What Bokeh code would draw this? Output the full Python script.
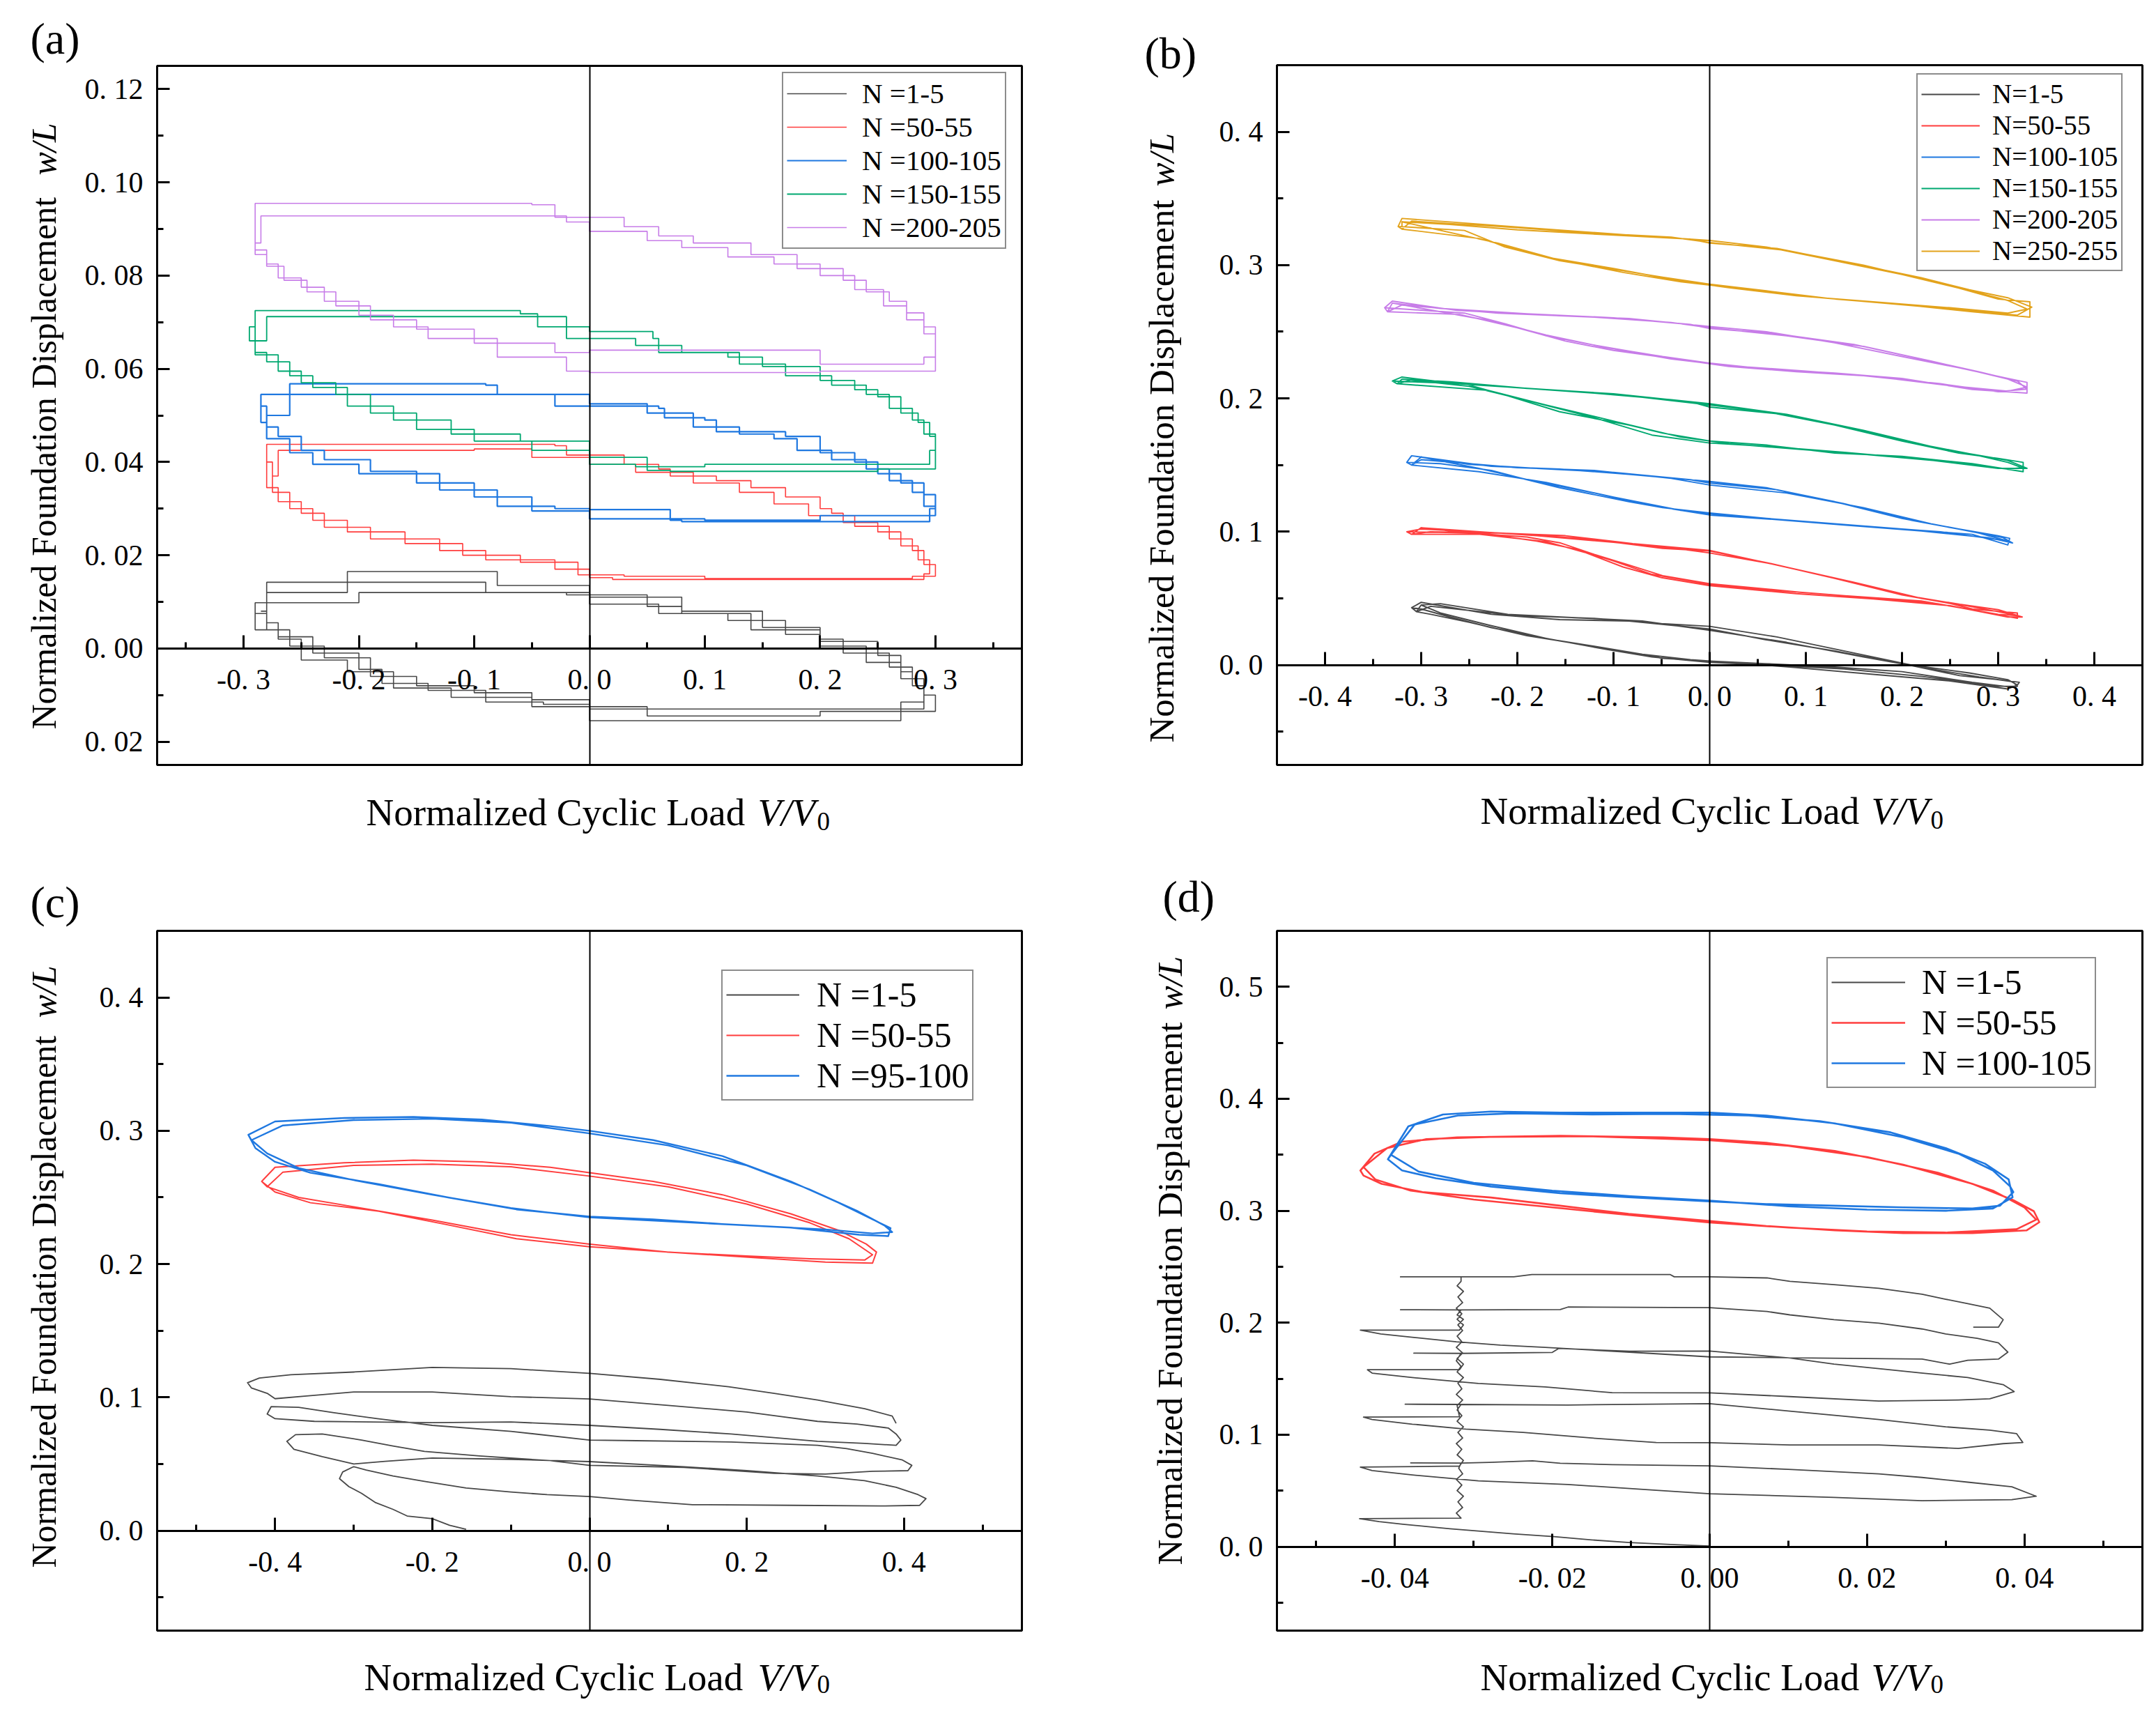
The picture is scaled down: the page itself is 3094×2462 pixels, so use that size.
import math
from bokeh.plotting import figure
from bokeh.models import Range1d, LinearAxis, FixedTicker, Label, Legend, LegendItem, BoxAnnotation
from bokeh.layouts import column, row
from bokeh.embed import file_html
from bokeh.resources import INLINE

# ------------------------------------------------------------------ data (a)
A_XTICKS = [-0.3, -0.2, -0.1, 0.0, 0.1, 0.2, 0.3]
A_XLABELS = ["-0. 3", "-0. 2", "-0. 1", "0. 0", "0. 1", "0. 2", "0. 3"]
A_XMINOR = [-0.35, -0.25, -0.15, -0.05, 0.05, 0.15, 0.25, 0.35]
A_YTICKS = [-0.02, 0.0, 0.02, 0.04, 0.06, 0.08, 0.10, 0.12]
A_YLABELS = ["0. 02", "0. 00", "0. 02", "0. 04", "0. 06", "0. 08", "0. 10", "0. 12"]
A_YMINOR = [-0.01, 0.01, 0.03, 0.05, 0.07, 0.09, 0.11]
A_LABELS = ["N =1-5", "N =50-55", "N =100-105", "N =150-155", "N =200-205"]

A_N1_C1 = [(-0.285, 0.008), (-0.28, 0.0142), (-0.1, 0.0142), (-0.09, 0.012), (-0.02, 0.0115), (0.05, 0.009),
           (0.08, 0.0075), (0.12, 0.006), (0.17, 0.003), (0.2, 0.0015), (0.25, -0.0015), (0.27, -0.005),
           (0.28, -0.008), (0.29, -0.0115), (0.29, -0.013), (0.2, -0.013), (0.1, -0.013), (0.0, -0.011),
           (-0.05, -0.0095), (-0.1, -0.008), (-0.15, -0.006), (-0.19, -0.002), (-0.23, 0.0005), (-0.26, 0.004),
           (-0.28, 0.008), (-0.285, 0.008)]
A_N1_C2 = [(-0.28, 0.0075), (-0.28, 0.012), (-0.21, 0.0165), (-0.09, 0.0165), (-0.08, 0.0135), (0.0, 0.011),
           (0.08, 0.008), (0.15, 0.0045), (0.2, 0.002), (0.22, -0.001), (0.26, -0.004), (0.28, -0.0065),
           (0.29, -0.0115), (0.27, -0.0155), (0.13, -0.0155), (0.0, -0.012), (-0.04, -0.0115), (-0.09, -0.009),
           (-0.14, -0.0075), (-0.18, -0.0045), (-0.2, -0.001), (-0.24, 0.0025), (-0.27, 0.0055), (-0.28, 0.0075)]
A_N1_C3 = [(-0.29, 0.0065), (-0.29, 0.0098), (-0.2, 0.012), (-0.05, 0.012), (0.0, 0.0095), (0.06, 0.0075),
           (0.14, 0.004), (0.2, 0.0005), (0.24, -0.003), (0.27, -0.0065), (0.29, -0.01), (0.3, -0.0135),
           (0.2, -0.0145), (0.05, -0.0125), (-0.05, -0.0105), (-0.12, -0.0085), (-0.17, -0.005), (-0.21, -0.0025),
           (-0.25, 0.002), (-0.27, 0.004), (-0.29, 0.0065)]
A_N50_C1 = [(-0.28, 0.04), (-0.28, 0.0438), (-0.03, 0.0435), (-0.02, 0.0415), (0.03, 0.0395), (0.06, 0.0385),
            (0.07, 0.037), (0.11, 0.036), (0.14, 0.0345), (0.17, 0.0325), (0.2, 0.03), (0.21, 0.029), (0.22, 0.027),
            (0.25, 0.025), (0.27, 0.022), (0.285, 0.019), (0.295, 0.016), (0.29, 0.0148), (0.02, 0.0152),
            (0.0, 0.017), (-0.03, 0.019), (-0.09, 0.021), (-0.13, 0.0235), (-0.19, 0.026), (-0.23, 0.029),
            (-0.25, 0.0315), (-0.27, 0.0345), (-0.28, 0.04)]
A_N50_C2 = [(-0.275, 0.037), (-0.27, 0.0425), (-0.1, 0.0428), (-0.05, 0.041), (0.0, 0.0395), (0.04, 0.0378),
            (0.09, 0.0355), (0.13, 0.0335), (0.16, 0.031), (0.19, 0.0285), (0.23, 0.0262), (0.26, 0.0235),
            (0.28, 0.021), (0.29, 0.018), (0.3, 0.0155), (0.28, 0.015), (0.1, 0.0155), (0.03, 0.0158),
            (-0.01, 0.0185), (-0.06, 0.02), (-0.11, 0.0225), (-0.16, 0.025), (-0.21, 0.0275), (-0.24, 0.03),
            (-0.26, 0.0335), (-0.275, 0.037)]
A_N100_C1 = [(-0.285, 0.052), (-0.285, 0.0545), (-0.035, 0.0545), (-0.03, 0.052), (0.06, 0.0515), (0.065, 0.0495),
             (0.1, 0.049), (0.11, 0.0465), (0.17, 0.0455), (0.19, 0.0455), (0.2, 0.042), (0.23, 0.04), (0.25, 0.0375),
             (0.27, 0.0355), (0.29, 0.033), (0.3, 0.03), (0.295, 0.0272), (0.08, 0.0275), (0.07, 0.0298),
             (0.0, 0.03), (-0.03, 0.0305), (-0.08, 0.034), (-0.13, 0.0375), (-0.2, 0.0395), (-0.24, 0.042),
             (-0.26, 0.045), (-0.28, 0.0485), (-0.285, 0.052)]
A_N100_C2 = [(-0.28, 0.05), (-0.26, 0.0568), (-0.09, 0.0565), (-0.08, 0.0545), (0.0, 0.0525), (0.05, 0.0505),
             (0.09, 0.0475), (0.13, 0.046), (0.16, 0.045), (0.18, 0.0425), (0.21, 0.0405), (0.24, 0.0385),
             (0.26, 0.036), (0.28, 0.0335), (0.29, 0.0305), (0.3, 0.0285), (0.2, 0.0275), (0.1, 0.0278),
             (0.0, 0.0295), (-0.05, 0.0325), (-0.1, 0.0355), (-0.15, 0.038), (-0.19, 0.0405), (-0.23, 0.0425),
             (-0.25, 0.0455), (-0.27, 0.0475), (-0.28, 0.05)]
A_N150_C1 = [(-0.295, 0.069), (-0.29, 0.0725), (-0.06, 0.0718), (-0.045, 0.069), (0.0, 0.068), (0.055, 0.0665),
             (0.06, 0.0635), (0.12, 0.0625), (0.15, 0.0605), (0.2, 0.0575), (0.23, 0.0555), (0.25, 0.054),
             (0.27, 0.0505), (0.285, 0.0485), (0.295, 0.0455), (0.3, 0.042), (0.3, 0.0385), (0.25, 0.038),
             (0.07, 0.0382), (0.05, 0.041), (0.0, 0.0425), (-0.05, 0.0445), (-0.1, 0.047), (-0.15, 0.0505),
             (-0.19, 0.0545), (-0.22, 0.057), (-0.25, 0.0595), (-0.27, 0.063), (-0.29, 0.066), (-0.295, 0.069)]
A_N150_C2 = [(-0.29, 0.066), (-0.28, 0.0712), (-0.04, 0.0712), (-0.02, 0.0665), (0.04, 0.065), (0.08, 0.0635),
             (0.13, 0.061), (0.17, 0.0585), (0.21, 0.0565), (0.24, 0.0545), (0.26, 0.0515), (0.28, 0.049),
             (0.29, 0.046), (0.3, 0.0425), (0.295, 0.0395), (0.2, 0.0395), (0.1, 0.039), (0.04, 0.0395),
             (0.0, 0.0445), (-0.06, 0.046), (-0.12, 0.049), (-0.17, 0.052), (-0.21, 0.056), (-0.24, 0.0585),
             (-0.26, 0.0615), (-0.28, 0.0635), (-0.29, 0.066)]
A_N200_C1 = [(-0.29, 0.089), (-0.29, 0.0955), (-0.05, 0.0952), (-0.03, 0.0925), (0.03, 0.0905), (0.06, 0.0885),
             (0.09, 0.087), (0.14, 0.0845), (0.18, 0.0815), (0.22, 0.079), (0.24, 0.0765), (0.26, 0.0745),
             (0.275, 0.072), (0.29, 0.069), (0.3, 0.066), (0.3, 0.0595), (0.2, 0.0592), (0.2, 0.0592),
             (0.0, 0.0595), (-0.02, 0.0625), (-0.08, 0.0665), (-0.14, 0.069), (-0.17, 0.0715), (-0.2, 0.0745),
             (-0.23, 0.0775), (-0.25, 0.0795), (-0.27, 0.0825), (-0.28, 0.0855), (-0.29, 0.089)]
A_N200_C2 = [(-0.29, 0.087), (-0.285, 0.0928), (-0.04, 0.0928), (-0.02, 0.0915), (0.0, 0.0895), (0.05, 0.0875),
             (0.08, 0.086), (0.12, 0.084), (0.16, 0.0825), (0.2, 0.08), (0.23, 0.077), (0.255, 0.0735),
             (0.275, 0.0705), (0.29, 0.0675), (0.3, 0.0625), (0.29, 0.061), (0.21, 0.061), (0.2, 0.064),
             (0.05, 0.064), (0.0, 0.0635), (-0.03, 0.0655), (-0.1, 0.0685), (-0.15, 0.0705), (-0.19, 0.0735),
             (-0.22, 0.0765), (-0.245, 0.079), (-0.265, 0.082), (-0.28, 0.0845), (-0.29, 0.087)]

# ------------------------------------------------------------------ data (b)
B_XTICKS = [-0.4, -0.3, -0.2, -0.1, 0.0, 0.1, 0.2, 0.3, 0.4]
B_XLABELS = ["-0. 4", "-0. 3", "-0. 2", "-0. 1", "0. 0", "0. 1", "0. 2", "0. 3", "0. 4"]
B_XMINOR = [-0.45, -0.35, -0.25, -0.15, -0.05, 0.05, 0.15, 0.25, 0.35, 0.45]
B_YTICKS = [0.0, 0.1, 0.2, 0.3, 0.4]
B_YLABELS = ["0. 0", "0. 1", "0. 2", "0. 3", "0. 4"]
B_YMINOR = [-0.05, 0.05, 0.15, 0.25, 0.35]
B_LABELS = ["N=1-5", "N=50-55", "N=100-105", "N=150-155", "N=200-205", "N=250-255"]

B_N1_C1 = [(-0.31, 0.043), (-0.3, 0.047), (-0.227, 0.038), (-0.156, 0.034), (-0.084, 0.033), (0.0, 0.027),
           (0.058, 0.019), (0.13, 0.0105), (0.2, 0.001), (0.26, -0.008), (0.3, -0.011), (0.322, -0.013),
           (0.318, -0.017), (0.273, -0.013), (0.2, -0.005), (0.13, -0.0015), (0.058, 0.001), (0.0, 0.003),
           (-0.049, 0.005), (-0.084, 0.0095), (-0.156, 0.018), (-0.227, 0.028), (-0.27, 0.036), (-0.3, 0.042),
           (-0.31, 0.043)]
B_N1_C2 = [(-0.305, 0.04), (-0.29, 0.044), (-0.2, 0.037), (-0.12, 0.035), (-0.05, 0.031), (0.0, 0.029),
           (0.07, 0.021), (0.15, 0.009), (0.21, 0.0), (0.27, -0.006), (0.31, -0.011), (0.32, -0.015),
           (0.31, -0.018), (0.25, -0.012), (0.17, -0.007), (0.09, -0.002), (0.03, 0.0015), (-0.02, 0.004),
           (-0.07, 0.008), (-0.12, 0.014), (-0.19, 0.022), (-0.25, 0.032), (-0.29, 0.038), (-0.305, 0.04)]
B_N1_C3 = [(-0.3, 0.045), (-0.28, 0.046), (-0.21, 0.038), (-0.14, 0.0355), (-0.07, 0.033), (0.0, 0.026),
           (0.08, 0.017), (0.16, 0.006), (0.23, -0.003), (0.28, -0.009), (0.315, -0.0125), (0.32, -0.016),
           (0.3, -0.016), (0.22, -0.0085), (0.14, -0.003), (0.06, 0.0), (0.0, 0.002), (-0.06, 0.006),
           (-0.11, 0.012), (-0.17, 0.02), (-0.23, 0.03), (-0.28, 0.039), (-0.3, 0.045)]
B_N50_C1 = [(-0.315, 0.1), (-0.3, 0.102), (-0.19, 0.098), (-0.12, 0.094), (-0.049, 0.0875), (0.0, 0.0855),
            (0.058, 0.077), (0.13, 0.065), (0.2, 0.0526), (0.251, 0.046), (0.273, 0.042), (0.32, 0.039),
            (0.32, 0.035), (0.237, 0.046), (0.166, 0.0505), (0.094, 0.0546), (0.0, 0.061), (-0.049, 0.067),
            (-0.084, 0.075), (-0.12, 0.083), (-0.156, 0.0917), (-0.19, 0.096), (-0.25, 0.099), (-0.315, 0.1)]
B_N50_C2 = [(-0.31, 0.098), (-0.29, 0.1), (-0.22, 0.099), (-0.15, 0.097), (-0.08, 0.091), (0.0, 0.086),
            (0.07, 0.075), (0.15, 0.062), (0.22, 0.05), (0.27, 0.044), (0.3, 0.04), (0.32, 0.037), (0.3, 0.038),
            (0.22, 0.048), (0.13, 0.0525), (0.05, 0.057), (0.0, 0.0605), (-0.06, 0.068), (-0.1, 0.078),
            (-0.14, 0.087), (-0.18, 0.093), (-0.23, 0.098), (-0.31, 0.098)]
B_N50_C3 = [(-0.3, 0.103), (-0.26, 0.101), (-0.18, 0.097), (-0.1, 0.092), (-0.03, 0.087), (0.0, 0.084),
            (0.06, 0.0765), (0.14, 0.0635), (0.21, 0.0515), (0.26, 0.0455), (0.3, 0.0415), (0.325, 0.036),
            (0.31, 0.036), (0.25, 0.0445), (0.17, 0.0495), (0.09, 0.0535), (0.0, 0.0595), (-0.05, 0.0655),
            (-0.09, 0.0735), (-0.13, 0.0845), (-0.17, 0.0925), (-0.22, 0.0965), (-0.3, 0.103)]
B_N100_C1 = [(-0.315, 0.152), (-0.31, 0.157), (-0.227, 0.149), (-0.156, 0.147), (-0.084, 0.143), (0.0, 0.1377),
             (0.059, 0.133), (0.13, 0.1225), (0.2, 0.11), (0.259, 0.102), (0.3, 0.097), (0.312, 0.095),
             (0.31, 0.09), (0.273, 0.098), (0.2, 0.102), (0.13, 0.106), (0.059, 0.11), (0.0, 0.114),
             (-0.049, 0.118), (-0.084, 0.1225), (-0.156, 0.133), (-0.19, 0.139), (-0.227, 0.146), (-0.28, 0.151),
             (-0.315, 0.152)]
B_N100_C2 = [(-0.31, 0.15), (-0.3, 0.154), (-0.2, 0.148), (-0.12, 0.146), (-0.04, 0.14), (0.0, 0.135),
             (0.08, 0.129), (0.16, 0.118), (0.23, 0.106), (0.28, 0.099), (0.31, 0.093), (0.3, 0.094),
             (0.24, 0.1), (0.16, 0.104), (0.09, 0.108), (0.02, 0.112), (-0.03, 0.116), (-0.1, 0.126),
             (-0.17, 0.137), (-0.24, 0.145), (-0.31, 0.15)]
B_N100_C3 = [(-0.3, 0.156), (-0.25, 0.1505), (-0.18, 0.1475), (-0.1, 0.1445), (-0.02, 0.139), (0.0, 0.1365),
             (0.07, 0.1315), (0.14, 0.121), (0.21, 0.1085), (0.27, 0.1005), (0.305, 0.0955), (0.315, 0.0915),
             (0.29, 0.0955), (0.22, 0.1005), (0.14, 0.105), (0.07, 0.109), (0.0, 0.1125), (-0.06, 0.1195),
             (-0.12, 0.129), (-0.18, 0.1375), (-0.24, 0.1475), (-0.3, 0.156)]
B_N150_C1 = [(-0.33, 0.213), (-0.32, 0.216), (-0.263, 0.211), (-0.156, 0.206), (-0.084, 0.202), (0.0, 0.195),
             (0.059, 0.19), (0.13, 0.18), (0.2, 0.168), (0.259, 0.159), (0.3, 0.155), (0.326, 0.152),
             (0.326, 0.145), (0.273, 0.151), (0.2, 0.1566), (0.13, 0.159), (0.059, 0.165), (0.0, 0.168),
             (-0.049, 0.174), (-0.084, 0.18), (-0.156, 0.19), (-0.213, 0.2026), (-0.255, 0.211), (-0.33, 0.213)]
B_N150_C2 = [(-0.325, 0.211), (-0.31, 0.214), (-0.22, 0.209), (-0.12, 0.204), (-0.04, 0.199), (0.0, 0.196),
             (0.08, 0.188), (0.16, 0.176), (0.23, 0.164), (0.28, 0.157), (0.31, 0.152), (0.325, 0.148),
             (0.31, 0.147), (0.24, 0.153), (0.16, 0.158), (0.09, 0.162), (0.02, 0.166), (-0.03, 0.171),
             (-0.1, 0.183), (-0.17, 0.195), (-0.23, 0.206), (-0.325, 0.211)]
B_N150_C3 = [(-0.32, 0.2145), (-0.27, 0.2125), (-0.19, 0.2075), (-0.1, 0.2035), (-0.02, 0.1975), (0.0, 0.1935),
             (0.07, 0.1885), (0.15, 0.1775), (0.22, 0.1655), (0.27, 0.1585), (0.31, 0.1535), (0.33, 0.1475),
             (0.3, 0.1475), (0.22, 0.1545), (0.14, 0.1595), (0.07, 0.1635), (0.0, 0.1665), (-0.06, 0.1725),
             (-0.12, 0.1855), (-0.19, 0.1985), (-0.25, 0.209), (-0.32, 0.2145)]
B_N200_C1 = [(-0.338, 0.268), (-0.33, 0.273), (-0.263, 0.266), (-0.156, 0.262), (-0.084, 0.26), (0.0, 0.254),
             (0.059, 0.25), (0.13, 0.2417), (0.2, 0.2314), (0.259, 0.223), (0.31, 0.215), (0.33, 0.212),
             (0.33, 0.204), (0.273, 0.2067), (0.2, 0.215), (0.13, 0.219), (0.059, 0.222), (0.0, 0.2265),
             (-0.049, 0.2314), (-0.084, 0.2355), (-0.12, 0.24), (-0.17, 0.247), (-0.213, 0.256), (-0.255, 0.264),
             (-0.338, 0.268)]
B_N200_C2 = [(-0.335, 0.265), (-0.32, 0.27), (-0.22, 0.264), (-0.12, 0.261), (-0.04, 0.257), (0.0, 0.253),
             (0.08, 0.247), (0.16, 0.239), (0.23, 0.228), (0.28, 0.22), (0.32, 0.213), (0.33, 0.207),
             (0.3, 0.205), (0.24, 0.211), (0.16, 0.217), (0.09, 0.22), (0.02, 0.224), (-0.03, 0.229),
             (-0.1, 0.236), (-0.15, 0.243), (-0.2, 0.253), (-0.26, 0.263), (-0.335, 0.265)]
B_N200_C3 = [(-0.33, 0.2715), (-0.28, 0.2675), (-0.19, 0.2635), (-0.1, 0.2605), (-0.02, 0.2555), (0.0, 0.2525),
             (0.07, 0.2485), (0.15, 0.2405), (0.22, 0.2295), (0.27, 0.2215), (0.31, 0.2145), (0.33, 0.2085),
             (0.31, 0.2055), (0.25, 0.2095), (0.17, 0.2165), (0.1, 0.2205), (0.02, 0.2245), (-0.04, 0.2295),
             (-0.11, 0.2385), (-0.17, 0.2475), (-0.23, 0.2585), (-0.33, 0.2715)]
B_N250_C1 = [(-0.324, 0.329), (-0.32, 0.335), (-0.263, 0.332), (-0.19, 0.328), (-0.084, 0.3226), (0.0, 0.3185),
             (0.059, 0.3136), (0.13, 0.3033), (0.2, 0.293), (0.259, 0.2828), (0.3, 0.2745), (0.333, 0.2725),
             (0.333, 0.261), (0.273, 0.265), (0.2, 0.2705), (0.13, 0.2745), (0.059, 0.2807), (0.0, 0.2857),
             (-0.049, 0.291), (-0.084, 0.295), (-0.156, 0.3033), (-0.213, 0.3136), (-0.255, 0.326), (-0.324, 0.329)]
B_N250_C2 = [(-0.32, 0.327), (-0.31, 0.333), (-0.22, 0.329), (-0.12, 0.324), (-0.04, 0.321), (0.0, 0.317),
             (0.08, 0.311), (0.16, 0.3), (0.23, 0.288), (0.28, 0.279), (0.31, 0.2735), (0.33, 0.267),
             (0.31, 0.264), (0.25, 0.268), (0.17, 0.2725), (0.09, 0.277), (0.02, 0.283), (-0.03, 0.288),
             (-0.1, 0.2975), (-0.17, 0.306), (-0.24, 0.32), (-0.32, 0.327)]
B_N250_C3 = [(-0.32, 0.3325), (-0.27, 0.3305), (-0.2, 0.3265), (-0.1, 0.3225), (-0.02, 0.3195), (0.0, 0.3165),
             (0.07, 0.3125), (0.14, 0.3025), (0.22, 0.2905), (0.27, 0.2815), (0.31, 0.2755), (0.335, 0.2685),
             (0.32, 0.2625), (0.26, 0.2665), (0.18, 0.2715), (0.1, 0.2765), (0.03, 0.2825), (-0.03, 0.2875),
             (-0.09, 0.2945), (-0.16, 0.3045), (-0.22, 0.3165), (-0.32, 0.3325)]

# ------------------------------------------------------------------ data (c)
C_XTICKS = [-0.4, -0.2, 0.0, 0.2, 0.4]
C_XLABELS = ["-0. 4", "-0. 2", "0. 0", "0. 2", "0. 4"]
C_XMINOR = [-0.5, -0.3, -0.1, 0.1, 0.3, 0.5]
C_YTICKS = [0.0, 0.1, 0.2, 0.3, 0.4]
C_YLABELS = ["0. 0", "0. 1", "0. 2", "0. 3", "0. 4"]
C_YMINOR = [-0.05, 0.05, 0.15, 0.25, 0.35]
C_LABELS = ["N =1-5", "N =50-55", "N =95-100"]

C_N1_PATH = [(-0.157, 0.001), (-0.178, 0.004), (-0.2, 0.009), (-0.232, 0.011), (-0.25, 0.016), (-0.272, 0.021),
             (-0.29, 0.028), (-0.306, 0.033), (-0.318, 0.039), (-0.314, 0.044), (-0.3, 0.048),
             (-0.284, 0.0455), (-0.25, 0.041), (-0.21, 0.037), (-0.157, 0.032), (-0.1, 0.029), (-0.054, 0.027),
             (0.0, 0.0256), (0.05, 0.023), (0.131, 0.0195), (0.26, 0.019), (0.37, 0.0185), (0.42, 0.019),
             (0.428, 0.024),
             (0.418, 0.027), (0.39, 0.0325), (0.35, 0.0375), (0.29, 0.041), (0.2, 0.045), (0.12, 0.048),
             (0.0, 0.0518), (-0.1, 0.0535), (-0.2, 0.0545), (-0.26, 0.052), (-0.3, 0.05), (-0.34, 0.0555),
             (-0.376, 0.061), (-0.385, 0.067), (-0.374, 0.072),
             (-0.34, 0.0725), (-0.29, 0.068), (-0.25, 0.0635), (-0.21, 0.0595), (-0.14, 0.056), (-0.05, 0.0525),
             (0.0, 0.049), (0.12, 0.0475), (0.235, 0.043), (0.3, 0.0425), (0.36, 0.0445), (0.405, 0.045),
             (0.41, 0.049),
             (0.398, 0.053), (0.36, 0.058), (0.327, 0.0615), (0.29, 0.064), (0.18, 0.0665), (0.06, 0.0675),
             (0.0, 0.068), (-0.1, 0.0745), (-0.2, 0.079), (-0.27, 0.084), (-0.325, 0.0885), (-0.37, 0.0925),
             (-0.405, 0.093), (-0.41, 0.0875),
             (-0.4, 0.084), (-0.35, 0.082), (-0.28, 0.0815), (-0.2, 0.081), (-0.1, 0.0815), (0.0, 0.079),
             (0.09, 0.076), (0.18, 0.0725), (0.29, 0.067), (0.35, 0.0655), (0.39, 0.064), (0.396, 0.068),
             (0.39, 0.0725), (0.38, 0.077), (0.34, 0.08), (0.29, 0.082), (0.2, 0.089), (0.1, 0.094),
             (0.0, 0.0988), (-0.1, 0.1005), (-0.2, 0.104), (-0.3, 0.104), (-0.36, 0.101), (-0.4, 0.099),
             (-0.41, 0.103), (-0.43, 0.107), (-0.435, 0.111),
             (-0.42, 0.1145), (-0.38, 0.117), (-0.3, 0.119), (-0.2, 0.1225), (-0.1, 0.1215), (0.0, 0.118),
             (0.09, 0.1135), (0.177, 0.108), (0.235, 0.103), (0.29, 0.098), (0.35, 0.0915), (0.385, 0.086),
             (0.39, 0.0805)]
C_N50_C1 = [(-0.417, 0.262), (-0.4, 0.2726), (-0.312, 0.276), (-0.224, 0.278), (-0.137, 0.2767), (-0.05, 0.2726),
            (0.0, 0.2685), (0.081, 0.262), (0.169, 0.252), (0.256, 0.2377), (0.317, 0.2253), (0.352, 0.215),
            (0.365, 0.209), (0.36, 0.2007), (0.3, 0.2015), (0.212, 0.2048), (0.125, 0.208), (0.0, 0.213),
            (-0.093, 0.219), (-0.18, 0.2294), (-0.268, 0.2397), (-0.355, 0.246), (-0.4, 0.254), (-0.417, 0.262)]
C_N50_C2 = [(-0.41, 0.258), (-0.39, 0.269), (-0.3, 0.274), (-0.2, 0.275), (-0.1, 0.273), (0.0, 0.266),
            (0.1, 0.258), (0.2, 0.245), (0.28, 0.231), (0.33, 0.219), (0.36, 0.207), (0.35, 0.203),
            (0.28, 0.204), (0.2, 0.206), (0.1, 0.209), (0.0, 0.215), (-0.1, 0.222), (-0.2, 0.233),
            (-0.3, 0.243), (-0.37, 0.25), (-0.41, 0.258)]
C_N95_C1 = [(-0.434, 0.297), (-0.4, 0.307), (-0.312, 0.3096), (-0.224, 0.3104), (-0.137, 0.3084), (-0.05, 0.3035),
            (0.0, 0.3), (0.081, 0.293), (0.169, 0.281), (0.256, 0.262), (0.317, 0.246), (0.36, 0.2335),
            (0.383, 0.227), (0.38, 0.221), (0.343, 0.222), (0.256, 0.2274), (0.169, 0.23), (0.081, 0.2336),
            (0.0, 0.2356), (-0.093, 0.241), (-0.18, 0.25), (-0.268, 0.26), (-0.355, 0.2685), (-0.4, 0.2767),
            (-0.425, 0.287), (-0.434, 0.297)]
C_N95_C2 = [(-0.43, 0.293), (-0.39, 0.304), (-0.3, 0.308), (-0.2, 0.309), (-0.1, 0.306), (0.0, 0.298),
            (0.1, 0.289), (0.2, 0.274), (0.28, 0.256), (0.34, 0.24), (0.375, 0.229), (0.385, 0.224),
            (0.36, 0.223), (0.3, 0.226), (0.2, 0.229), (0.1, 0.232), (0.0, 0.235), (-0.1, 0.242),
            (-0.2, 0.252), (-0.3, 0.263), (-0.37, 0.272), (-0.41, 0.283), (-0.43, 0.293)]

# ------------------------------------------------------------------ data (d)
D_XTICKS = [-0.04, -0.02, 0.0, 0.02, 0.04]
D_XLABELS = ["-0. 04", "-0. 02", "0. 00", "0. 02", "0. 04"]
D_XMINOR = [-0.05, -0.03, -0.01, 0.01, 0.03, 0.05]
D_YTICKS = [0.0, 0.1, 0.2, 0.3, 0.4, 0.5]
D_YLABELS = ["0. 0", "0. 1", "0. 2", "0. 3", "0. 4", "0. 5"]
D_YMINOR = [-0.05, 0.05, 0.15, 0.25, 0.35, 0.45]
D_LABELS = ["N =1-5", "N =50-55", "N =100-105"]

D_N1_PATH = [(0.0, 0.0005), (-0.005, 0.002), (-0.0102, 0.0037), (-0.015, 0.006), (-0.0198, 0.0089),
             (-0.025, 0.0115), (-0.0294, 0.014), (-0.033, 0.016), (-0.036, 0.018), (-0.039, 0.02),
             (-0.042, 0.0224), (-0.0445, 0.025), (-0.0316, 0.0255),
             (-0.0322, 0.03), (-0.0314, 0.035), (-0.032, 0.04), (-0.0313, 0.045), (-0.0321, 0.05),
             (-0.0315, 0.055), (-0.0322, 0.06), (-0.0314, 0.065), (-0.0319, 0.07), (-0.0316, 0.0746),
             (-0.038, 0.0748), (-0.0316, 0.0746),
             (-0.028, 0.0752), (-0.0225, 0.0767), (-0.019, 0.0745), (-0.0124, 0.0732), (0.0, 0.0721),
             (0.01, 0.069), (0.0215, 0.065), (0.027, 0.0618), (0.0328, 0.0576), (0.0384, 0.0535), (0.0415, 0.045),
             (0.0384, 0.042), (0.027, 0.041), (0.0158, 0.044), (0.0, 0.0473), (-0.0068, 0.0504), (-0.018, 0.0555),
             (-0.0294, 0.0587), (-0.0378, 0.064), (-0.0429, 0.068), (-0.0444, 0.071), (-0.0318, 0.072),
             (-0.0313, 0.077), (-0.0321, 0.082), (-0.0315, 0.087), (-0.0322, 0.092), (-0.0314, 0.097),
             (-0.032, 0.102), (-0.0313, 0.107), (-0.0321, 0.112), (-0.0315, 0.117), (-0.0321, 0.122),
             (-0.0316, 0.127), (-0.0387, 0.1272), (-0.0316, 0.127),
             (-0.018, 0.1265), (0.0, 0.1277), (0.0102, 0.121), (0.0215, 0.1136), (0.03, 0.107), (0.0356, 0.104),
             (0.039, 0.101), (0.0398, 0.093),
             (0.0373, 0.092), (0.0316, 0.0877), (0.0215, 0.0908), (0.0102, 0.0908), (0.0, 0.0928),
             (-0.0068, 0.093), (-0.015, 0.097), (-0.0237, 0.102), (-0.031, 0.105), (-0.0378, 0.1094),
             (-0.0429, 0.1136), (-0.044, 0.1157), (-0.0318, 0.116),
             (-0.0321, 0.126), (-0.0314, 0.131), (-0.0322, 0.136), (-0.0315, 0.141), (-0.032, 0.146),
             (-0.0313, 0.151), (-0.0321, 0.156), (-0.0316, 0.161), (-0.0322, 0.166), (-0.0316, 0.1726),
             (-0.0376, 0.1728), (-0.0316, 0.1726),
             (-0.02, 0.1735), (-0.0192, 0.177), (-0.0102, 0.1745), (0.0, 0.1747), (0.0102, 0.1685),
             (0.0158, 0.163), (0.0215, 0.159), (0.0271, 0.155), (0.0328, 0.151), (0.0373, 0.1447), (0.0387, 0.1385),
             (0.0356, 0.132), (0.0316, 0.131), (0.0215, 0.13), (0.0102, 0.134), (0.0, 0.1374), (-0.0124, 0.1375),
             (-0.0209, 0.1426), (-0.0294, 0.1457), (-0.0378, 0.151), (-0.0429, 0.155), (-0.0435, 0.158),
             (-0.0318, 0.158),
             (-0.0313, 0.163), (-0.0321, 0.168), (-0.0314, 0.173), (-0.0322, 0.178), (-0.0315, 0.183),
             (-0.0321, 0.188), (-0.0314, 0.193), (-0.032, 0.198), (-0.0313, 0.203), (-0.0321, 0.207),
             (-0.0316, 0.2114), (-0.0393, 0.2116), (-0.0316, 0.2114),
             (-0.019, 0.2118), (-0.018, 0.214), (0.0, 0.2135), (0.0073, 0.21), (0.0102, 0.207), (0.0158, 0.2027),
             (0.0215, 0.1996), (0.027, 0.1944), (0.03, 0.19), (0.034, 0.186), (0.0367, 0.182), (0.0379, 0.1737),
             (0.0367, 0.1675), (0.0328, 0.1665), (0.0305, 0.163), (0.027, 0.1675), (0.013, 0.1685), (0.0, 0.1695),
             (-0.0102, 0.1737), (-0.0209, 0.178), (-0.0266, 0.18), (-0.0322, 0.183), (-0.0378, 0.187),
             (-0.0418, 0.19), (-0.0444, 0.1934), (-0.0318, 0.1934),
             (-0.0313, 0.198), (-0.0321, 0.203), (-0.0315, 0.208), (-0.0322, 0.213), (-0.0314, 0.218),
             (-0.032, 0.223), (-0.0313, 0.228), (-0.0321, 0.233), (-0.0316, 0.237), (-0.0316, 0.241),
             (-0.0393, 0.241), (-0.0316, 0.241),
             (-0.0249, 0.241), (-0.0226, 0.243), (-0.005, 0.243), (-0.0045, 0.241), (0.0, 0.241), (0.0073, 0.24),
             (0.0102, 0.237), (0.0158, 0.234), (0.0215, 0.2307), (0.027, 0.2255), (0.03, 0.221), (0.0328, 0.217),
             (0.0356, 0.213), (0.0373, 0.2027), (0.0367, 0.196), (0.0335, 0.196)]
D_N50_C1 = [(-0.0444, 0.336), (-0.0426, 0.351), (-0.0391, 0.3617), (-0.0321, 0.3656), (-0.019, 0.367),
            (-0.006, 0.3656), (0.0, 0.364), (0.0072, 0.3607), (0.0159, 0.3534), (0.0246, 0.3412), (0.0334, 0.324),
            (0.0386, 0.3094), (0.0412, 0.2996), (0.0419, 0.2898), (0.0403, 0.2825), (0.0334, 0.28), (0.0246, 0.28),
            (0.0159, 0.2825), (0.0072, 0.2864), (0.0, 0.2908), (-0.0103, 0.2972), (-0.019, 0.3045),
            (-0.0278, 0.3118), (-0.0365, 0.3167), (-0.0417, 0.324), (-0.044, 0.3314), (-0.0444, 0.336)]
D_N50_C2 = [(-0.044, 0.339), (-0.041, 0.356), (-0.036, 0.364), (-0.028, 0.366), (-0.015, 0.3665), (0.0, 0.363),
            (0.01, 0.358), (0.02, 0.348), (0.029, 0.334), (0.036, 0.318), (0.04, 0.303), (0.0415, 0.292),
            (0.039, 0.2835), (0.03, 0.2805), (0.02, 0.2815), (0.01, 0.285), (0.0, 0.2895), (-0.01, 0.296),
            (-0.02, 0.303), (-0.03, 0.31), (-0.038, 0.318), (-0.0425, 0.328), (-0.044, 0.339)]
D_N100_C1 = [(-0.0409, 0.346), (-0.0383, 0.3754), (-0.0339, 0.386), (-0.0278, 0.3886), (-0.019, 0.3876),
             (-0.01, 0.3876), (0.0, 0.3876), (0.0072, 0.385), (0.0159, 0.378), (0.0246, 0.3656), (0.0316, 0.351),
             (0.036, 0.336), (0.0382, 0.3216), (0.0386, 0.3167), (0.0369, 0.3045), (0.0334, 0.302),
             (0.0246, 0.303), (0.0159, 0.3045), (0.0072, 0.306), (0.0, 0.3084), (-0.0103, 0.312),
             (-0.019, 0.3157), (-0.0278, 0.3216), (-0.0348, 0.329), (-0.0391, 0.336), (-0.0409, 0.346)]
D_N100_C2 = [(-0.0405, 0.35), (-0.0375, 0.377), (-0.032, 0.385), (-0.025, 0.387), (-0.015, 0.386),
             (-0.005, 0.3865), (0.005, 0.385), (0.014, 0.38), (0.023, 0.37), (0.03, 0.356), (0.035, 0.342),
             (0.038, 0.328), (0.0385, 0.312), (0.036, 0.302), (0.03, 0.3), (0.02, 0.301), (0.01, 0.304),
             (0.0, 0.309), (-0.01, 0.313), (-0.02, 0.318), (-0.03, 0.325), (-0.037, 0.335), (-0.0405, 0.35)]

# ------------------------------------------------------------------ styling
SERIF = "Liberation Serif"
COLORS = ["#484848", "#ff3d3d", "#1f78e0", "#00a870", "#c77de8", "#e3a31c"]
TICK_FS = "42px"


def xy(*loops):
    xs, ys = [], []
    for lp in loops:
        for px, py in lp:
            xs.append(px)
            ys.append(py)
    return xs, ys


def make_panel(cfg):
    W, H = cfg["size"]
    ml, mr, mt, mb = cfg["borders"]
    x_lo, x_hi = cfg["xr"]
    y_lo, y_hi = cfg["yr"]
    fw = W - ml - mr
    fh = H - mt - mb
    dx = (x_hi - x_lo) / fw
    dy = (y_hi - y_lo) / fh

    p = figure(width=W, height=H, title=None,
               x_range=Range1d(x_lo - ml * dx, x_hi + mr * dx),
               y_range=Range1d(y_lo - mb * dy, y_hi + mt * dy),
               x_axis_type=None, y_axis_type=None,
               output_backend="svg", toolbar_location=None, min_border=0)
    p.background_fill_color = "white"
    p.border_fill_color = "white"
    p.outline_line_color = None

    yax = LinearAxis(fixed_location=x_lo, bounds=(y_lo, y_hi),
                     ticker=FixedTicker(ticks=cfg["yt"], minor_ticks=cfg["ym"]),
                     major_label_overrides={t: l for t, l in zip(cfg["yt"], cfg["yl"])})
    yax.axis_line_color = None
    yax.major_tick_in = 18
    yax.major_tick_out = 0
    yax.minor_tick_in = 9
    yax.minor_tick_out = 0
    yax.major_tick_line_width = 3
    yax.minor_tick_line_width = 3
    yax.major_label_text_font = SERIF
    yax.major_label_text_font_size = TICK_FS
    yax.major_label_text_color = "black"
    yax.major_label_standoff = 20
    p.add_layout(yax, "left")

    zax = LinearAxis(fixed_location=0, bounds=(y_lo, y_hi), ticker=FixedTicker(ticks=[], minor_ticks=[]),
                     major_label_text_font_size="0px")
    zax.axis_line_width = 2
    zax.axis_line_color = "black"
    zax.major_tick_line_color = None
    zax.minor_tick_line_color = None
    p.add_layout(zax, "left")

    xax = LinearAxis(fixed_location=0, bounds=(x_lo, x_hi),
                     ticker=FixedTicker(ticks=cfg["xt"], minor_ticks=cfg["xm"]),
                     major_label_overrides={t: l for t, l in zip(cfg["xt"], cfg["xl"])})
    xax.axis_line_width = 3
    xax.axis_line_color = "black"
    xax.major_tick_in = 19
    xax.major_tick_out = 0
    xax.minor_tick_in = 9
    xax.minor_tick_out = 0
    xax.major_tick_line_width = 3
    xax.minor_tick_line_width = 3
    xax.major_label_text_font = SERIF
    xax.major_label_text_font_size = TICK_FS
    xax.major_label_text_color = "black"
    xax.major_label_standoff = 22
    p.add_layout(xax, "below")

    items = []
    for (xs, ys), label, color, kind, lw in cfg["series"]:
        if kind == "step":
            r = p.step(xs, ys, mode="after", line_color=color, line_width=lw)
        else:
            r = p.line(xs, ys, line_color=color, line_width=lw, line_join="round")
        items.append(LegendItem(label=label, renderers=[r]))

    p.add_layout(BoxAnnotation(left=x_lo, right=x_hi, bottom=y_lo, top=y_hi,
                               fill_color=None, fill_alpha=0, line_color="black",
                               line_width=3, line_alpha=1.0))

    lg = cfg["legend"]
    leg = Legend(items=items, location=(ml + lg["x"], mb + lg["y"]),
                 padding=5, spacing=0, margin=0,
                 label_text_font=SERIF, label_text_font_size=f"{lg['fs']}px",
                 label_text_color="black",
                 glyph_width=lg["gw"], glyph_height=20, label_height=20, label_standoff=lg["st"],
                 border_line_color="#8c8c8c", border_line_width=2, border_line_alpha=1.0,
                 background_fill_color="white", background_fill_alpha=1.0)
    p.add_layout(leg)

    def X(px):
        return x_lo + px * dx

    def Y(py):
        return y_lo + py * dy

    def txt(x, y, text, size, style="normal", angle=0.0):
        p.add_layout(Label(x=x, y=y, text=text, text_font=SERIF, text_font_size=f"{size}px",
                           text_font_style=style, text_color="black", angle=angle, angle_units="rad",
                           text_align="left", text_baseline="alphabetic"))

    t = cfg["titles"]
    txt(X(t["xt"][0]), Y(t["xt"][1]), "Normalized Cyclic Load", 55)
    txt(X(t["vv"]), Y(t["xt"][1]), "V/V", 55, "italic")
    txt(X(t["vv"] + 85), Y(t["xt"][1] - t["sub"]), "0", 37)
    txt(X(t["yt"][0]), Y(t["yt"][1]), "Normalized Foundation Displacement", t["yfs"], angle=math.pi / 2)
    txt(X(t["yt"][0]), Y(t["wl"]), "w/L", t["yfs"], "italic", angle=math.pi / 2)
    txt(X(t["lab"][0]), y_hi + t["lab"][1] * dy, cfg["letter"], 64)
    return p


PANELS = [
    dict(letter="(a)", size=(1547, 1231), xr=(-0.375, 0.375), yr=(-0.025, 0.125),
         xt=A_XTICKS, xl=A_XLABELS, xm=A_XMINOR, yt=A_YTICKS, yl=A_YLABELS, ym=A_YMINOR,
         borders=(225, 81, 94, 134),
         series=[(xy(A_N1_C1, A_N1_C2, A_N1_C3), A_LABELS[0], COLORS[0], "step", 1.6),
                 (xy(A_N50_C1, A_N50_C2), A_LABELS[1], COLORS[1], "step", 1.6),
                 (xy(A_N100_C1, A_N100_C2), A_LABELS[2], COLORS[2], "step", 2.2),
                 (xy(A_N150_C1, A_N150_C2), A_LABELS[3], COLORS[3], "step", 1.8),
                 (xy(A_N200_C1, A_N200_C2), A_LABELS[4], COLORS[4], "step", 1.6)],
         legend=dict(x=897, y=740, fs=41, gw=86, st=22),
         titles=dict(xt=(300, -68), vv=862, sub=13, yt=(-163, 51), wl=846, yfs=50, lab=(-182, 39))),
    dict(letter="(b)", size=(1531, 1231), xr=(-0.45, 0.45), yr=(-0.075, 0.45),
         xt=B_XTICKS, xl=B_XLABELS, xm=B_XMINOR, yt=B_YTICKS, yl=B_YLABELS, ym=B_YMINOR,
         borders=(285, 4, 93, 134),
         series=[(xy(B_N1_C1, B_N1_C2, B_N1_C3), B_LABELS[0], COLORS[0], "line", 1.9),
                 (xy(B_N50_C1, B_N50_C2, B_N50_C3), B_LABELS[1], COLORS[1], "line", 1.9),
                 (xy(B_N100_C1, B_N100_C2, B_N100_C3), B_LABELS[2], COLORS[2], "line", 1.9),
                 (xy(B_N150_C1, B_N150_C2, B_N150_C3), B_LABELS[3], COLORS[3], "line", 1.9),
                 (xy(B_N200_C1, B_N200_C2, B_N200_C3), B_LABELS[4], COLORS[4], "line", 1.9),
                 (xy(B_N250_C1, B_N250_C2, B_N250_C3), B_LABELS[5], COLORS[5], "line", 1.9)],
         legend=dict(x=918, y=708, fs=39, gw=84, st=18),
         titles=dict(xt=(292, -66), vv=853, sub=13, yt=(-166, 32), wl=830, yfs=51, lab=(-190, 17))),
    dict(letter="(c)", size=(1547, 1215), xr=(-0.55, 0.55), yr=(-0.075, 0.45),
         xt=C_XTICKS, xl=C_XLABELS, xm=C_XMINOR, yt=C_YTICKS, yl=C_YLABELS, ym=C_YMINOR,
         borders=(225, 81, 104, 107),
         series=[(xy(C_N1_PATH), C_LABELS[0], COLORS[0], "line", 1.8),
                 (xy(C_N50_C1, C_N50_C2), C_LABELS[1], COLORS[1], "line", 2.0),
                 (xy(C_N95_C1, C_N95_C2), C_LABELS[2], COLORS[2], "line", 2.4)],
         legend=dict(x=810, y=760, fs=50, gw=105, st=25),
         titles=dict(xt=(297, -67), vv=862, sub=10, yt=(-163, 90), wl=879, yfs=50, lab=(-182, 41))),
    dict(letter="(d)", size=(1531, 1215), xr=(-0.055, 0.055), yr=(-0.075, 0.55),
         xt=D_XTICKS, xl=D_XLABELS, xm=D_XMINOR, yt=D_YTICKS, yl=D_YLABELS, ym=D_YMINOR,
         borders=(285, 4, 104, 107),
         series=[(xy(D_N1_PATH), D_LABELS[0], COLORS[0], "line", 1.8),
                 (xy(D_N50_C1, D_N50_C2), D_LABELS[1], COLORS[1], "line", 2.6),
                 (xy(D_N100_C1, D_N100_C2), D_LABELS[2], COLORS[2], "line", 2.6)],
         legend=dict(x=789, y=778, fs=50, gw=106, st=24),
         titles=dict(xt=(292, -67), vv=853, sub=10, yt=(-154, 94), wl=891, yfs=51, lab=(-164, 49))),
]

figs = [make_panel(c) for c in PANELS]
layout = column(row(figs[0], figs[1]), row(figs[2], figs[3]))

open("out.html", "w").write(file_html(layout, INLINE))
